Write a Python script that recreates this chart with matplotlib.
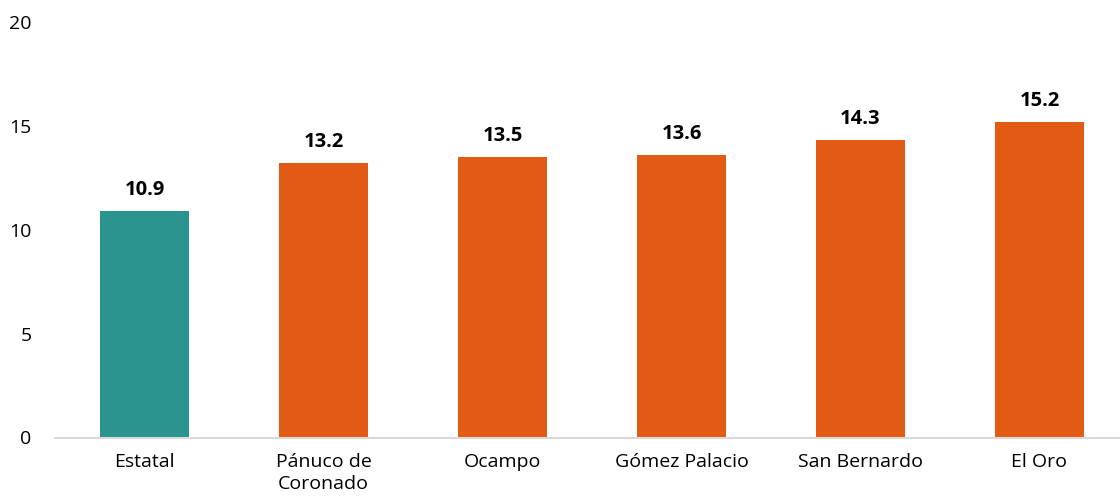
import matplotlib.pyplot as plt

categorias = ["Estatal", "Pánuco de\nCoronado", "Ocampo", "Gómez Palacio", "San Bernardo", "El Oro"]
valores = [10.9, 13.2, 13.5, 13.6, 14.3, 15.2]
colores = ["#2B948F", "#E25A13", "#E25A13", "#E25A13", "#E25A13", "#E25A13"]
y_ticks = [0, 5, 10, 15, 20]

plt.rcParams["font.family"] = ["Open Sans", "DejaVu Sans"]

fig = plt.figure(figsize=(11.2, 5.01), dpi=100)
ax = fig.add_axes([55 / 1120, 1 - 437.5 / 501, 1 - 55 / 1120, 415.5 / 501])

x = range(len(categorias))
barras = ax.bar(x, valores, width=0.5, color=colores, zorder=2)

for b, v in zip(barras, valores):
    ax.annotate(f"{v:.1f}", (b.get_x() + b.get_width() / 2, v),
                xytext=(0, 8), textcoords="offset points",
                ha="center", va="bottom", fontsize=14.5, fontweight="bold")

ax.set_ylim(0, 20)
ax.set_xlim(-0.5, 5.45)
ax.set_yticks(y_ticks)
ax.set_xticks(list(x))
ax.set_xticklabels(categorias, fontsize=14, linespacing=1.3)
ax.tick_params(axis="y", labelsize=14, length=0, pad=17)
ax.tick_params(axis="x", length=0, pad=11)

for lado in ("top", "right", "left"):
    ax.spines[lado].set_visible(False)
ax.spines["bottom"].set_color("#D9D9D9")
ax.spines["bottom"].set_linewidth(1.5)

fig.savefig("out.png", dpi=100)
